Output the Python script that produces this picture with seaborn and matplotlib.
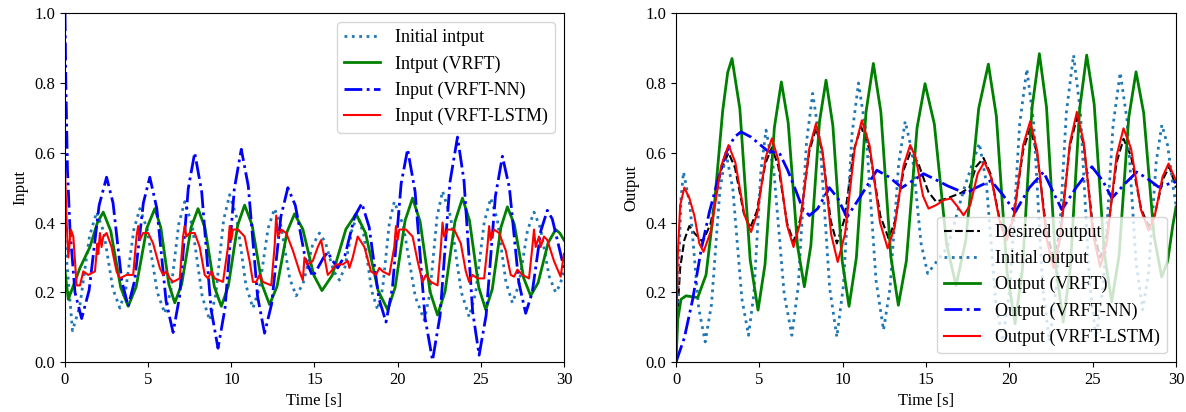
import matplotlib
matplotlib.use("Agg")
import matplotlib.pyplot as plt
import seaborn as sns

# --- Left panel: controller inputs ---
t_init_in = [0.0, 0.45, 0.89, 1.47, 1.9, 2.32, 2.88, 3.3, 3.66, 4.14, 4.5, 4.95, 5.55, 6.0, 6.36,
             6.84, 7.2, 7.65, 8.25, 8.7, 9.06, 9.54, 9.9, 10.32, 10.88, 11.3, 11.69, 12.21, 12.6, 12.99,
             13.51, 13.9, 14.32, 14.88, 15.3, 15.66, 16.14, 16.5, 16.83, 17.27, 17.6, 17.96, 18.44, 18.8, 19.1,
             19.5, 19.8, 20.34, 21.06, 21.6, 21.93, 22.37, 22.7, 23.18, 23.82, 24.3, 24.69, 25.21, 25.6, 25.99,
             26.51, 26.9, 27.29, 27.81, 28.2, 28.59, 29.11, 29.5, 29.75, 30.0]
y_init_in = [0.35, 0.09, 0.16, 0.36, 0.43, 0.375, 0.21, 0.155, 0.21, 0.38, 0.44, 0.38, 0.20, 0.14, 0.204,
             0.396, 0.46, 0.392, 0.188, 0.12, 0.192, 0.408, 0.48, 0.415, 0.22, 0.155, 0.212, 0.383, 0.44, 0.39,
             0.24, 0.19, 0.226, 0.334, 0.37, 0.343, 0.262, 0.235, 0.272, 0.383, 0.42, 0.366, 0.204, 0.15, 0.212,
             0.398, 0.46, 0.392, 0.188, 0.12, 0.194, 0.416, 0.49, 0.418, 0.202, 0.13, 0.198, 0.402, 0.47, 0.41,
             0.23, 0.17, 0.222, 0.378, 0.43, 0.384, 0.246, 0.2, 0.22, 0.26]

t_vrft_in = [0.0, 0.2, 0.9, 1.5, 1.95, 2.3, 2.75, 3.35, 3.8, 4.28, 4.92, 5.4, 5.76, 6.24, 6.6,
             7.02, 7.58, 8.0, 8.42, 8.98, 9.4, 9.82, 10.38, 10.8, 11.25, 11.85, 12.3, 12.75, 13.35, 13.8,
             14.3, 14.96, 15.45, 16.07, 16.89, 17.5, 18.07, 18.83, 19.4, 19.85, 20.45, 20.9, 21.35, 21.95, 22.4,
             22.85, 23.45, 23.9, 24.32, 24.88, 25.3, 25.69, 26.21, 26.6, 27.02, 27.58, 28.0, 28.45, 29.05, 29.5,
             29.75, 30.0]
y_vrft_in = [0.26, 0.18, 0.27, 0.33, 0.40, 0.43, 0.376, 0.214, 0.16, 0.216, 0.384, 0.44, 0.386, 0.224, 0.17,
             0.224, 0.386, 0.44, 0.384, 0.216, 0.16, 0.218, 0.392, 0.45, 0.393, 0.222, 0.165, 0.217, 0.373, 0.425,
             0.381, 0.249, 0.205, 0.249, 0.381, 0.425, 0.37, 0.205, 0.15, 0.214, 0.406, 0.47, 0.403, 0.202, 0.135,
             0.202, 0.403, 0.47, 0.406, 0.214, 0.15, 0.209, 0.386, 0.445, 0.394, 0.241, 0.19, 0.228, 0.342, 0.38,
             0.37, 0.35]

t_nn_in = [0.0, 0.05, 0.15, 0.3, 0.6, 1.0, 1.45, 2.05, 2.5, 2.89, 3.41, 3.8, 4.19, 4.71, 5.1,
           5.52, 6.08, 6.5, 6.89, 7.41, 7.8, 8.22, 8.78, 9.2, 9.62, 10.18, 10.6, 11.02, 11.58, 12.0,
           12.42, 12.98, 13.4, 13.85, 14.45, 14.9, 15.2, 15.55, 15.8, 16.1, 16.4, 16.84, 17.42, 17.85, 18.29,
           18.87, 19.3, 19.69, 20.21, 20.6, 21.05, 21.65, 22.1, 22.55, 23.15, 23.6, 23.99, 24.51, 24.9, 25.32,
           25.88, 26.3, 26.72, 27.28, 27.7, 28.09, 28.61, 29.0, 29.3, 29.7, 30.0]
y_nn_in = [1.0, 0.8, 0.55, 0.38, 0.2, 0.125, 0.206, 0.449, 0.53, 0.456, 0.234, 0.16, 0.234, 0.456, 0.53,
           0.441, 0.174, 0.085, 0.188, 0.497, 0.60, 0.488, 0.152, 0.04, 0.154, 0.496, 0.61, 0.505, 0.188, 0.083,
           0.166, 0.417, 0.50, 0.449, 0.296, 0.245, 0.27, 0.30, 0.315, 0.29, 0.27, 0.307, 0.418, 0.455, 0.387,
           0.183, 0.115, 0.214, 0.511, 0.61, 0.489, 0.126, 0.005, 0.133, 0.517, 0.645, 0.52, 0.145, 0.02, 0.134,
           0.476, 0.59, 0.50, 0.23, 0.14, 0.199, 0.376, 0.435, 0.41, 0.33, 0.27]

t_lstm_in = [0.0, 0.1, 0.2, 0.35, 0.5, 0.7, 0.9, 1.1, 1.4, 1.8, 1.95, 2.0, 2.1, 2.2, 2.3, 2.5, 2.8,
             3.1, 3.3, 3.7, 4.1, 4.3, 4.4, 4.5, 4.7, 5.0, 5.3, 5.7, 5.9, 6.1, 6.3, 6.5, 6.9, 7.1,
             7.2, 7.3, 7.5, 7.8, 8.1, 8.4, 8.6, 8.8, 9.0, 9.5, 9.8, 9.9, 10.0, 10.1, 10.4, 10.8,
             11.1, 11.3, 11.5, 11.7, 11.9, 12.4, 12.6, 12.7, 12.8, 13.0, 13.3, 13.7, 14.1, 14.3,
             14.4, 14.6, 14.9, 15.2, 15.4, 15.6, 15.8, 16.0, 16.3, 16.7, 17.0, 17.1, 17.3, 17.6,
             18.0, 18.4, 18.7, 18.9, 19.1, 19.5, 19.8, 19.9, 20.0, 20.1, 20.5, 20.9, 21.2, 21.5,
             21.7, 22.0, 22.4, 22.6, 22.7, 22.8, 23.0, 23.4, 23.8, 24.1, 24.3, 24.5, 24.8, 25.2,
             25.4, 25.5, 25.6, 25.8, 26.1, 26.5, 26.8, 27.0, 27.2, 27.5, 27.9, 28.1, 28.2, 28.3,
             28.5, 28.6, 28.8, 29.0, 29.4, 29.8, 30.0]
y_lstm_in = [0.55, 0.40, 0.30, 0.38, 0.36, 0.22, 0.22, 0.26, 0.25, 0.26, 0.34, 0.31, 0.37, 0.33, 0.36, 0.37, 0.33,
             0.26, 0.24, 0.25, 0.25, 0.36, 0.39, 0.35, 0.37, 0.37, 0.34, 0.27, 0.25, 0.26, 0.24, 0.23, 0.24, 0.36,
             0.39, 0.36, 0.37, 0.37, 0.33, 0.25, 0.24, 0.26, 0.24, 0.23, 0.33, 0.39, 0.35, 0.38, 0.38, 0.36,
             0.29, 0.23, 0.23, 0.25, 0.23, 0.22, 0.33, 0.42, 0.36, 0.38, 0.37, 0.32, 0.26, 0.235,
             0.30, 0.28, 0.29, 0.33, 0.35, 0.30, 0.25, 0.26, 0.28, 0.28, 0.29, 0.27, 0.30, 0.36,
             0.33, 0.26, 0.25, 0.27, 0.26, 0.25, 0.33, 0.39, 0.35, 0.38, 0.38, 0.36, 0.29, 0.23,
             0.25, 0.23, 0.22, 0.33, 0.40, 0.36, 0.38, 0.38, 0.34, 0.26, 0.23, 0.25, 0.24, 0.24,
             0.33, 0.39, 0.35, 0.38, 0.37, 0.32, 0.25, 0.245, 0.265, 0.25, 0.24, 0.33, 0.38, 0.33,
             0.36, 0.33, 0.36, 0.35, 0.29, 0.245, 0.31]

# --- Right panel: plant outputs ---
t_desired = [0.0, 0.1, 0.25, 0.5, 0.8, 1.1, 1.6, 2.07, 2.69, 3.15, 3.54, 4.06, 4.45, 4.84, 5.36,
             5.75, 6.14, 6.66, 7.05, 7.46, 8.0, 8.4, 8.78, 9.28, 9.65, 10.09, 10.67, 11.1, 11.6, 12.26,
             12.75, 13.14, 13.66, 14.05, 14.52, 15.14, 15.6, 16.3, 17.1, 17.6, 18.0, 18.45, 18.87, 19.43, 19.85,
             20.27, 20.83, 21.25, 21.67, 22.23, 22.65, 23.07, 23.63, 24.05, 24.47, 25.03, 25.45, 25.87, 26.43, 26.85,
             27.3, 27.9, 28.35, 28.73, 29.23, 29.6, 30.0]
y_desired = [0.0, 0.15, 0.27, 0.35, 0.39, 0.37, 0.345, 0.396, 0.549, 0.60, 0.557, 0.428, 0.385, 0.431, 0.569,
             0.615, 0.561, 0.399, 0.345, 0.41, 0.605, 0.67, 0.604, 0.406, 0.34, 0.407, 0.608, 0.675, 0.611, 0.419,
             0.355, 0.404, 0.551, 0.60, 0.572, 0.488, 0.46, 0.47, 0.485, 0.50, 0.56, 0.585, 0.54, 0.405, 0.36,
             0.422, 0.608, 0.67, 0.596, 0.374, 0.30, 0.38, 0.62, 0.70, 0.62, 0.38, 0.30, 0.368, 0.572, 0.64,
             0.59, 0.44, 0.39, 0.424, 0.526, 0.56, 0.50]

t_init_out = [0.0, 0.15, 0.3, 0.45, 0.84, 1.36, 1.75, 2.13, 2.63, 3.0, 3.41, 3.95, 4.35, 4.67, 5.09,
              5.4, 5.87, 6.49, 6.95, 7.33, 7.83, 8.2, 8.64, 9.22, 9.65, 10.04, 10.56, 10.95, 11.4, 12.0,
              12.45, 12.84, 13.36, 13.75, 14.16, 14.7, 15.1, 16.3, 17.3, 18.2, 18.62, 19.18, 19.6, 20.04, 20.62,
              21.05, 21.46, 22.0, 22.4, 22.84, 23.42, 23.85, 24.26, 24.8, 25.2, 25.64, 26.22, 26.65, 27.06, 27.6,
              28.0, 28.35, 28.81, 29.15, 29.5, 29.8, 30.0]
y_init_out = [0.0, 0.25, 0.47, 0.545, 0.448, 0.155, 0.058, 0.166, 0.492, 0.60, 0.495, 0.182, 0.077, 0.195, 0.547,
              0.665, 0.547, 0.195, 0.077, 0.216, 0.631, 0.77, 0.63, 0.212, 0.072, 0.218, 0.654, 0.80, 0.658, 0.234,
              0.092, 0.212, 0.57, 0.69, 0.603, 0.341, 0.254, 0.33, 0.50, 0.627, 0.514, 0.174, 0.06, 0.216, 0.684,
              0.84, 0.684, 0.216, 0.06, 0.224, 0.716, 0.88, 0.718, 0.232, 0.07, 0.222, 0.678, 0.83, 0.694, 0.286,
              0.15, 0.256, 0.574, 0.68, 0.62, 0.51, 0.45]

t_vrft_out = [0.0, 0.1, 0.3, 0.6, 1.3, 1.8, 2.3, 2.8, 3.1, 3.36, 3.83, 4.45, 4.92, 5.34, 5.9,
              6.32, 6.73, 7.29, 7.7, 8.09, 8.61, 9.0, 9.41, 9.97, 10.38, 10.82, 11.4, 11.84, 12.29, 12.89,
              13.34, 13.82, 14.46, 14.94, 15.5, 16.24, 16.8, 17.38, 18.16, 18.74, 19.22, 19.86, 20.34, 20.78, 21.36,
              21.8, 22.23, 22.8, 23.23, 23.65, 24.22, 24.64, 25.09, 25.69, 26.14, 26.58, 27.16, 27.6, 28.06, 28.68,
              29.14, 29.5, 29.8, 30.0]
y_vrft_out = [0.0, 0.12, 0.18, 0.19, 0.185, 0.25, 0.45, 0.72, 0.83, 0.87, 0.726, 0.293, 0.149, 0.28, 0.672,
              0.803, 0.686, 0.333, 0.216, 0.334, 0.69, 0.808, 0.678, 0.29, 0.16, 0.299, 0.717, 0.856, 0.717, 0.302,
              0.163, 0.29, 0.671, 0.798, 0.682, 0.336, 0.22, 0.347, 0.727, 0.854, 0.705, 0.259, 0.11, 0.265, 0.729,
              0.884, 0.73, 0.269, 0.115, 0.268, 0.727, 0.88, 0.739, 0.314, 0.173, 0.305, 0.70, 0.832, 0.714, 0.362,
              0.244, 0.29, 0.39, 0.445]

t_nn_out = [0.0, 0.5, 1.0, 1.5, 2.0, 2.5, 3.0, 3.5, 3.9, 4.5, 5.0, 5.5, 6.2, 6.7, 7.2, 7.6, 8.0,
            8.5, 9.2, 9.7, 10.25, 11.0, 12.05, 12.8, 13.55, 14.2, 14.85, 15.5, 16.3, 17.4, 18.0,
            18.9, 19.6, 20.35, 21.2, 22.05, 22.6, 23.15, 24.0, 24.95, 25.6, 26.15, 26.9, 27.65,
            28.3, 28.95, 30.0]
y_nn_out = [0.0, 0.07, 0.18, 0.32, 0.43, 0.52, 0.6, 0.645, 0.66, 0.645, 0.625, 0.605, 0.60, 0.55, 0.49, 0.44, 0.42,
            0.44, 0.50, 0.47, 0.415, 0.47, 0.55, 0.53, 0.50, 0.52, 0.54, 0.525, 0.505, 0.483, 0.50,
            0.52, 0.48, 0.43, 0.50, 0.545, 0.49, 0.437, 0.50, 0.56, 0.52, 0.47, 0.51, 0.545,
            0.525, 0.502, 0.517]

t_lstm_out = [0.0, 0.1, 0.25, 0.5, 0.8, 1.1, 1.4, 1.65, 2.1, 2.7, 3.15, 3.56, 4.1, 4.5, 4.88,
              5.38, 5.75, 6.14, 6.66, 7.05, 7.46, 8.0, 8.4, 8.79, 9.31, 9.7, 10.14, 10.72, 11.15, 11.62,
              12.24, 12.7, 13.11, 13.65, 14.05, 14.38, 14.82, 15.15, 15.6, 16.1, 16.5, 16.9, 17.25, 17.65, 18.1,
              18.5, 18.91, 19.45, 19.85, 20.27, 20.83, 21.25, 21.67, 22.23, 22.65, 23.07, 23.63, 24.05, 24.47, 25.03,
              25.45, 25.87, 26.43, 26.85, 27.3, 27.9, 28.35, 28.71, 29.19, 29.55, 30.0]
y_lstm_out = [0.0, 0.3, 0.45, 0.50, 0.47, 0.42, 0.34, 0.316, 0.377, 0.561, 0.622, 0.572, 0.423, 0.373, 0.427,
              0.587, 0.641, 0.579, 0.392, 0.33, 0.401, 0.613, 0.684, 0.605, 0.366, 0.287, 0.368, 0.612, 0.693, 0.62,
              0.40, 0.326, 0.385, 0.563, 0.622, 0.586, 0.476, 0.44, 0.45, 0.465, 0.469, 0.445, 0.421, 0.45, 0.54,
              0.574, 0.529, 0.395, 0.35, 0.418, 0.622, 0.69, 0.606, 0.354, 0.27, 0.359, 0.628, 0.717, 0.628, 0.362,
              0.273, 0.352, 0.591, 0.67, 0.612, 0.436, 0.378, 0.416, 0.531, 0.569, 0.52]

plt.rcParams['font.family'] = ['Liberation Serif', 'DejaVu Serif']
plt.rcParams['font.size'] = 12

fig = plt.figure(figsize=(11.86, 4.12), dpi=100)
ax1 = fig.add_axes([0.0548, 0.121, 0.4207, 0.847])
ax2 = fig.add_axes([0.5700, 0.121, 0.4216, 0.847])

# --- Inputs ---
sns.lineplot(x=t_init_in, y=y_init_in, ax=ax1, color="#1f77b4", linestyle=":", linewidth=2, label="Initial intput")
sns.lineplot(x=t_vrft_in, y=y_vrft_in, ax=ax1, color="green", linestyle="-", linewidth=2, label="Intput (VRFT)")
sns.lineplot(x=t_nn_in, y=y_nn_in, ax=ax1, color="blue", linestyle="-.", linewidth=2, label="Input (VRFT-NN)")
sns.lineplot(x=t_lstm_in, y=y_lstm_in, ax=ax1, color="red", linestyle="-", linewidth=1.5, label="Input (VRFT-LSTM)")
ax1.set_xlim(0, 30)
ax1.set_ylim(0, 1)
ax1.set_xlabel("Time [s]")
ax1.set_ylabel("Input")
ax1.legend(loc="upper right", fontsize=13)

# --- Outputs ---
sns.lineplot(x=t_desired, y=y_desired, ax=ax2, color="k", linestyle="--", linewidth=1.5, label="Desired output")
sns.lineplot(x=t_init_out, y=y_init_out, ax=ax2, color="#1f77b4", linestyle=":", linewidth=2, label="Initial output")
sns.lineplot(x=t_vrft_out, y=y_vrft_out, ax=ax2, color="green", linestyle="-", linewidth=2, label="Output (VRFT)")
sns.lineplot(x=t_nn_out, y=y_nn_out, ax=ax2, color="blue", linestyle="-.", linewidth=2, label="Output (VRFT-NN)")
sns.lineplot(x=t_lstm_out, y=y_lstm_out, ax=ax2, color="red", linestyle="-", linewidth=1.5, label="Output (VRFT-LSTM)")
ax2.set_xlim(0, 30)
ax2.set_ylim(0, 1)
ax2.set_xlabel("Time [s]")
ax2.set_ylabel("Output")
ax2.legend(loc="lower right", fontsize=13)

for ax in (ax1, ax2):
    ax.set_xticks(range(0, 31, 5))
    ax.set_yticks([0.0, 0.2, 0.4, 0.6, 0.8, 1.0])

fig.savefig("out.png", dpi=100)
